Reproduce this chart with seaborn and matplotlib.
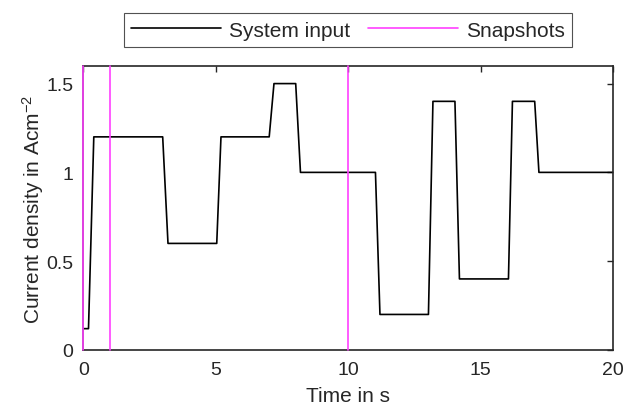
"""Step profile of the current density input with snapshot markers."""

import matplotlib

matplotlib.use("Agg")
import matplotlib.pyplot as plt
import pandas as pd
import seaborn as sns

# breakpoints of the piecewise-linear input signal
time_s = [0.0, 0.2, 0.4, 3.0, 3.2, 5.04, 5.2, 7.02, 7.2, 8.02, 8.2, 11.03, 11.2,
          13.03, 13.2, 14.03, 14.2, 16.05, 16.2, 17.04, 17.2, 20.0]
current_density = [0.12, 0.12, 1.2, 1.2, 0.6, 0.6, 1.2, 1.2, 1.5, 1.5, 1.0, 1.0, 0.2,
                   0.2, 1.4, 1.4, 0.4, 0.4, 1.4, 1.4, 1.0, 1.0]
snapshot_times = [0, 1, 10]

x_ticks = [0, 5, 10, 15, 20]
y_ticks = [0, 0.5, 1, 1.5]
y_tick_labels = ["0", "0.5", "1", "1.5"]

sns.set_theme(style="white")
plt.rcParams["font.family"] = ["Liberation Sans", "DejaVu Sans"]
plt.rcParams["mathtext.default"] = "regular"

signal = pd.DataFrame({"time": time_s, "current": current_density})

figure = plt.figure(figsize=(6.4, 4.1), dpi=100)
axis = figure.add_axes([0.13, 0.144, 0.828, 0.693])

for index, snap in enumerate(snapshot_times):
    axis.axvline(snap, color="#ff40ff", linewidth=1.2, label="Snapshots" if index == 0 else None,
                 zorder=3, clip_on=False)
sns.lineplot(data=signal, x="time", y="current", sort=False, estimator=None, color="black",
             linewidth=1.2, label="System input", ax=axis, zorder=2)

axis.set_xlim(0, 20)
axis.set_ylim(0, 1.6)
axis.set_xticks(x_ticks)
axis.set_yticks(y_ticks)
axis.set_yticklabels(y_tick_labels)
axis.set_xlabel("Time in s", fontsize=15, labelpad=6)
axis.set_ylabel("Current density in Acm$^{-2}$", fontsize=15, labelpad=0)
axis.tick_params(direction="in", length=4, width=1, labelsize=14, top=True, right=True,
                 color="#262626")
axis.tick_params(axis="x", pad=8)
axis.tick_params(axis="y", pad=7)
for spine in axis.spines.values():
    spine.set_linewidth(1.2)
    spine.set_color("#262626")

handles, labels = axis.get_legend_handles_labels()
order = [labels.index("System input"), labels.index("Snapshots")]
axis.legend([handles[i] for i in order], [labels[i] for i in order], ncol=2,
            loc="center", bbox_to_anchor=(0.5, 1.126), fontsize=15, frameon=True,
            fancybox=False, edgecolor="#262626", handlelength=4.3, handletextpad=0.4,
            columnspacing=0.85, borderpad=0.35, borderaxespad=0).get_frame().set_linewidth(0.8)

figure.savefig("out.png", dpi=100)
